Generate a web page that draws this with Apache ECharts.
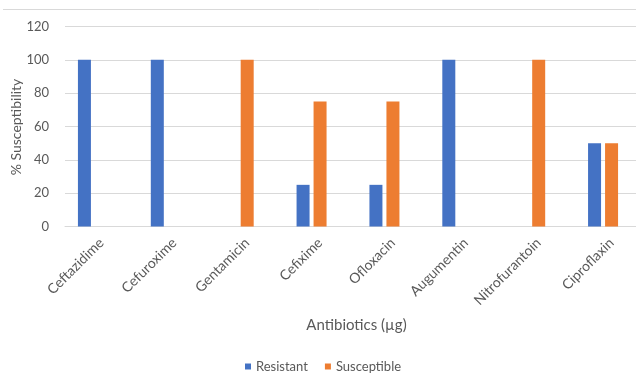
<!DOCTYPE html>
<html>
<head>
<meta charset="utf-8">
<script src="https://cdn.jsdelivr.net/npm/echarts@6/dist/echarts.min.js"></script>
<style>
html,body{margin:0;padding:0;background:#fff;}
#chart{width:636px;height:374px;}
</style>
</head>
<body>
<div id="chart"></div>
<script>
const categories = ['Ceftazidime','Cefuroxime','Gentamicin','Cefixime','Ofloxacin','Augumentin','Nitrofurantoin','Ciproflaxin'];
const resistant = [100, 100, 0, 25, 25, 100, 0, 50];
const susceptible = [0, 0, 100, 75, 75, 0, 100, 50];
const yTicks = [0, 20, 40, 60, 80, 100, 120];
const yTitle = '% Susceptibility';
const xTitle = 'Antibiotics (µg)';

const FONT = 'Lato';
const chart = echarts.init(document.getElementById('chart'), null, {renderer: 'canvas'});
chart.setOption({
  animation: false,
  backgroundColor: '#ffffff',
  textStyle: {fontFamily: FONT},
  graphic: [{
    type: 'line', shape: {x1: 3, y1: 9.5, x2: 636, y2: 9.5},
    style: {stroke: '#d9d9d9', lineWidth: 1}, silent: true
  }, {
    type: 'text', x: 16, y: 127, rotation: Math.PI / 2,
    style: {text: yTitle, fill: '#595959', font: '14px Lato', align: 'center', verticalAlign: 'middle'},
    silent: true
  }],
  legend: {
    data: ['Resistant', 'Susceptible'],
    bottom: -4,
    left: 240,
    itemWidth: 6, itemHeight: 6, itemGap: 17,
    icon: 'rect',
    textStyle: {color: '#595959', fontSize: 13, fontFamily: FONT}
  },
  grid: {left: 65, top: 26.5, height: 200, width: 583, containLabel: false, outerBoundsMode: 'none'},
  xAxis: {
    type: 'category',
    data: categories,
    name: xTitle,
    nameLocation: 'middle',
    nameGap: 91,
    nameMoveOverlap: false,
    nameTextStyle: {color: '#595959', fontSize: 15, fontFamily: FONT},
    axisLine: {lineStyle: {color: '#d9d9d9', width: 1}},
    axisTick: {show: false},
    axisLabel: {rotate: 45, color: '#595959', fontSize: 14, margin: 14, fontFamily: FONT, interval: 0}
  },
  yAxis: {
    type: 'value',
    min: yTicks[0], max: yTicks[yTicks.length - 1], interval: 20,
    axisLine: {show: false},
    axisTick: {show: false},
    axisLabel: {color: '#595959', fontSize: 13, margin: 16, fontFamily: FONT},
    splitLine: {lineStyle: {color: '#d9d9d9', width: 1}}
  },
  series: [
    {name: 'Resistant', type: 'bar', data: resistant, barWidth: 13, barGap: '30.8%',
     itemStyle: {color: '#4472C4'}},
    {name: 'Susceptible', type: 'bar', data: susceptible, barWidth: 13, barGap: '30.8%',
     itemStyle: {color: '#ED7D31'}},
    {name: '_pad', type: 'bar', data: [], barWidth: 13, barGap: '30.8%'}
  ]
});
</script>
</body>
</html>
